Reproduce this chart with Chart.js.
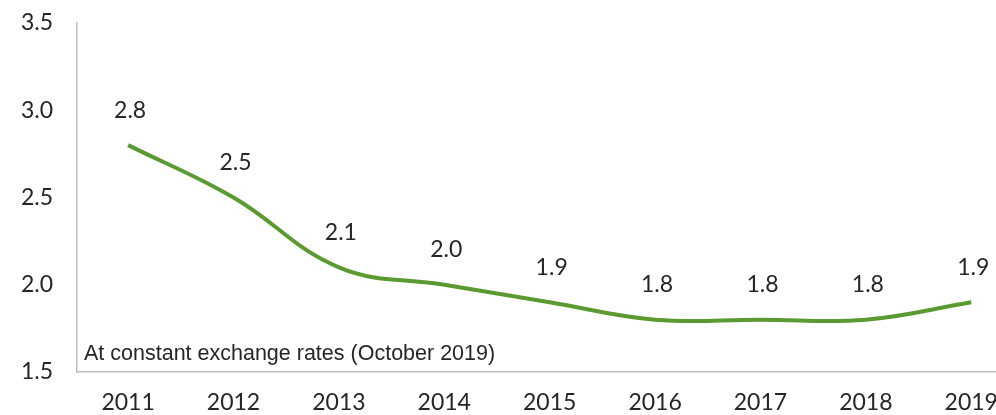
<!DOCTYPE html>
<html>
<head>
<meta charset="utf-8">
<script src="https://cdn.jsdelivr.net/npm/chart.js@4"></script>
<style>
  html, body { margin: 0; padding: 0; background: #fff; }
  #wrap { width: 996px; height: 415px; position: relative; }
</style>
</head>
<body>
<div id="wrap"><canvas id="chart"></canvas></div>
<script>
const years = [2011, 2012, 2013, 2014, 2015, 2016, 2017, 2018, 2019];
const values = [2.8, 2.5, 2.1, 2.0, 1.9, 1.8, 1.8, 1.8, 1.9];
const yTicks = [1.5, 2.0, 2.5, 3.0, 3.5];
const noteText = 'At constant exchange rates (October 2019)';

const textColor = '#262626';
const axisFont = { family: 'Lato, "Noto Sans", sans-serif', size: 23 };

// value labels above each point
const pointLabels = {
    id: 'pointLabels',
    afterDatasetsDraw(chart) {
        const ctx = chart.ctx;
        const meta = chart.getDatasetMeta(0);
        ctx.save();
        ctx.font = '23px Lato, "Noto Sans", sans-serif';
        ctx.fillStyle = textColor;
        ctx.textAlign = 'center';
        ctx.textBaseline = 'middle';
        meta.data.forEach((pt, i) => {
            ctx.fillText(values[i].toFixed(1), pt.x + 2, pt.y - 35);
        });
        ctx.restore();
    }
};

// footnote inside the plot area
const note = {
    id: 'note',
    afterDraw(chart) {
        const { ctx, chartArea } = chart;
        ctx.save();
        ctx.font = '21.5px "Liberation Sans", Arial, sans-serif';
        ctx.fillStyle = textColor;
        ctx.textAlign = 'left';
        ctx.textBaseline = 'alphabetic';
        ctx.fillText(noteText, chartArea.left + 7, chartArea.bottom - 12);
        ctx.restore();
    }
};

new Chart(document.getElementById('chart'), {
    type: 'line',
    data: {
        datasets: [{
            data: years.map((y, i) => ({ x: y, y: values[i] })),
            borderColor: '#5b9a30',
            borderWidth: 4,
            pointRadius: 0,
            tension: 0.4,
            fill: false
        }]
    },
    options: {
        responsive: true,
        maintainAspectRatio: false,
        animation: false,
        layout: { padding: { top: 23, right: 0, left: 0, bottom: 0 } },
        plugins: { legend: { display: false }, tooltip: { enabled: false } },
        scales: {
            x: {
                type: 'linear',
                min: 2010.515,
                max: 2019.235,
                afterBuildTicks: s => { s.ticks = years.map(v => ({ value: v })); },
                afterFit: s => { s.height = 43; s.paddingLeft = 0; s.paddingRight = 0; },
                grid: { display: false, drawTicks: false },
                border: { display: true, color: '#bfbfbf', width: 1.5 },
                ticks: {
                    color: textColor,
                    font: axisFont,
                    padding: 17,
                    maxRotation: 0,
                    autoSkip: false,
                    callback: v => String(v)
                }
            },
            y: {
                min: 1.5,
                max: 3.5,
                afterBuildTicks: s => { s.ticks = yTicks.map(v => ({ value: v })); },
                afterFit: s => { s.width = 77; s.paddingTop = 0; s.paddingBottom = 0; },
                grid: { display: false, drawTicks: false },
                border: { display: true, color: '#bfbfbf', width: 1.5 },
                ticks: {
                    color: textColor,
                    font: axisFont,
                    padding: 24,
                    callback: v => v.toFixed(1)
                }
            }
        }
    },
    plugins: [pointLabels, note]
});
</script>
</body>
</html>
